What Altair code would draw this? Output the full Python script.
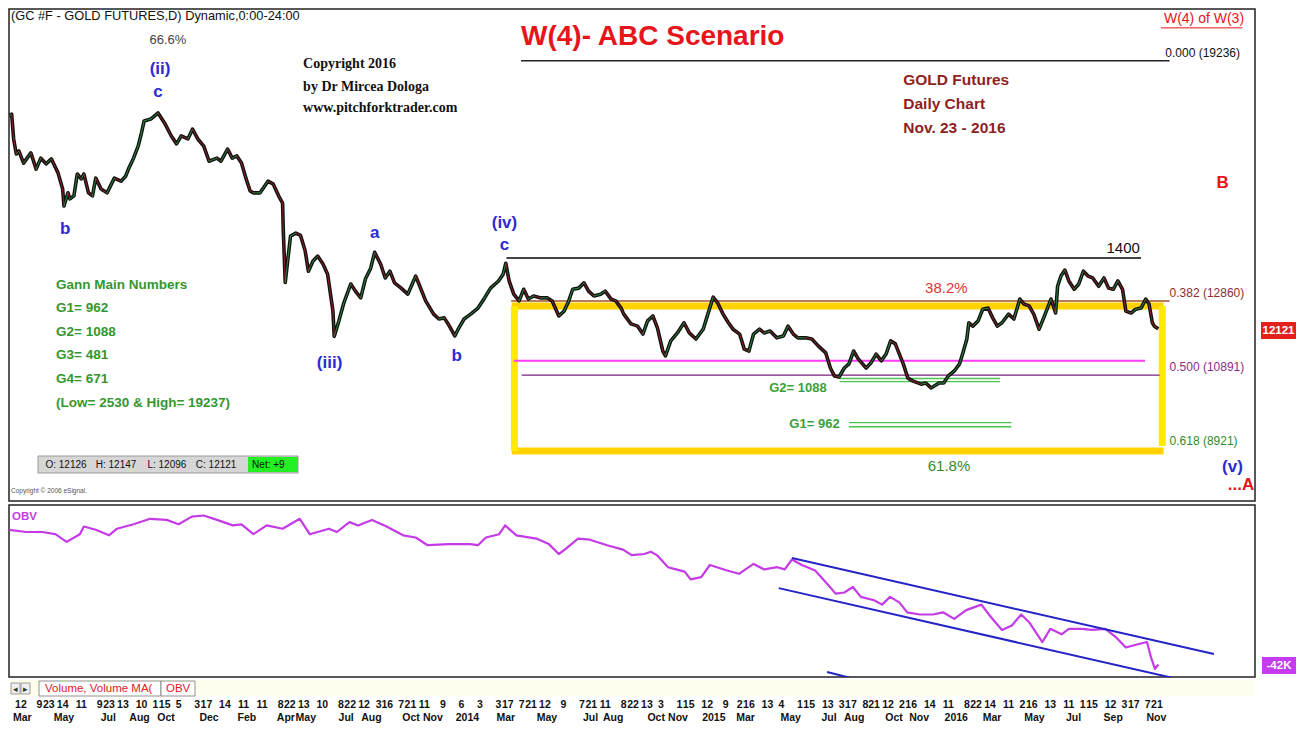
import altair as alt
import pandas as pd

SANS = "Liberation Sans, Arial, sans-serif"
SERIF = "Liberation Serif, Times New Roman, serif"

W = 1246
H_PRICE = 492
H_OBV = 172
H_DATE = 44

# ---------------- data ----------------
price_dates = [
    "2012-02-23", "2012-02-27", "2012-03-01", "2012-03-05", "2012-03-09", "2012-03-16", "2012-03-27",
    "2012-04-04", "2012-04-11", "2012-04-19", "2012-04-27", "2012-05-07", "2012-05-14", "2012-05-16",
    "2012-05-22", "2012-05-25", "2012-05-31", "2012-06-05", "2012-06-11", "2012-06-15", "2012-06-22",
    "2012-06-28", "2012-07-03", "2012-07-11", "2012-07-20", "2012-07-31", "2012-08-10", "2012-08-17",
    "2012-08-22", "2012-08-29", "2012-09-05", "2012-09-10", "2012-09-14", "2012-09-24", "2012-10-05",
    "2012-10-15", "2012-10-25", "2012-11-02", "2012-11-09", "2012-11-19", "2012-11-26", "2012-12-04",
    "2012-12-13", "2012-12-21", "2013-01-02", "2013-01-08", "2013-01-18", "2013-01-25", "2013-02-01",
    "2013-02-08", "2013-02-15", "2013-02-21", "2013-02-26", "2013-03-08", "2013-03-20", "2013-03-28",
    "2013-04-05", "2013-04-11", "2013-04-12", "2013-04-15", "2013-04-19", "2013-04-23", "2013-05-01",
    "2013-05-08", "2013-05-15", "2013-05-20", "2013-05-27", "2013-06-03", "2013-06-11", "2013-06-18",
    "2013-06-26", "2013-06-28", "2013-07-05", "2013-07-12", "2013-07-23", "2013-07-30", "2013-08-07",
    "2013-08-14", "2013-08-22", "2013-08-28", "2013-09-06", "2013-09-13", "2013-09-20", "2013-09-27",
    "2013-10-07", "2013-10-17", "2013-10-29", "2013-11-06", "2013-11-13", "2013-11-25", "2013-12-03",
    "2013-12-11", "2013-12-17", "2013-12-27", "2014-01-02", "2014-01-10", "2014-01-20", "2014-01-31",
    "2014-02-10", "2014-02-19", "2014-03-03", "2014-03-10", "2014-03-14", "2014-03-19", "2014-03-26",
    "2014-04-03", "2014-04-10", "2014-04-17", "2014-04-25", "2014-05-06", "2014-05-16", "2014-05-23",
    "2014-06-02", "2014-06-10", "2014-06-17", "2014-06-23", "2014-07-02", "2014-07-10", "2014-07-17",
    "2014-07-25", "2014-08-04", "2014-08-11", "2014-08-20", "2014-08-27", "2014-09-04", "2014-09-08",
    "2014-09-19", "2014-09-29", "2014-10-07", "2014-10-14", "2014-10-22", "2014-10-29", "2014-11-06",
    "2014-11-10", "2014-11-18", "2014-11-28", "2014-12-08", "2014-12-16", "2014-12-26", "2015-01-06",
    "2015-01-13", "2015-01-21", "2015-01-28", "2015-02-05", "2015-02-13", "2015-02-20", "2015-03-02",
    "2015-03-09", "2015-03-16", "2015-03-23", "2015-04-01", "2015-04-08", "2015-04-17", "2015-04-27",
    "2015-05-07", "2015-05-14", "2015-05-22", "2015-05-29", "2015-06-10", "2015-06-19", "2015-06-29",
    "2015-07-10", "2015-07-17", "2015-07-23", "2015-07-30", "2015-08-07", "2015-08-14", "2015-08-21",
    "2015-08-28", "2015-09-09", "2015-09-16", "2015-09-24", "2015-10-02", "2015-10-09", "2015-10-16",
    "2015-10-23", "2015-11-04", "2015-11-11", "2015-11-19", "2015-12-01", "2015-12-08", "2015-12-16",
    "2015-12-28", "2016-01-04", "2016-01-11", "2016-01-20", "2016-01-28", "2016-02-02", "2016-02-08",
    "2016-02-11", "2016-02-17", "2016-02-25", "2016-03-03", "2016-03-11", "2016-03-18", "2016-03-25",
    "2016-04-01", "2016-04-11", "2016-04-19", "2016-04-28", "2016-05-04", "2016-05-12", "2016-05-19",
    "2016-05-27", "2016-06-03", "2016-06-14", "2016-06-21", "2016-06-24", "2016-06-29", "2016-07-05",
    "2016-07-11", "2016-07-19", "2016-07-26", "2016-08-02", "2016-08-09", "2016-08-16", "2016-08-25",
    "2016-09-02", "2016-09-09", "2016-09-16", "2016-09-23", "2016-09-30", "2016-10-05", "2016-10-13",
    "2016-10-20", "2016-10-28", "2016-11-04", "2016-11-09", "2016-11-14", "2016-11-17", "2016-11-23",
]
price_values = [
    17770, 17820, 17160, 16760, 16840, 16520, 16790,
    16360, 16650, 16500, 16630, 16260, 15830, 15380,
    15730, 15570, 15650, 16230, 16100, 16230, 15730,
    15650, 16120, 15830, 15730, 16120, 16040, 16170,
    16390, 16650, 16970, 17320, 17640, 17690, 17850,
    17580, 17240, 17030, 17240, 17160, 17420, 17160,
    16970, 16570, 16650, 16570, 16890, 16650, 16710,
    16520, 16100, 15780, 15730, 15730, 16040, 15960,
    15650, 15460, 14770, 13350, 13970, 14580, 14660,
    14600, 14200, 13650, 13920, 14050, 13840, 13570,
    12590, 11920, 12330, 12780, 13310, 13120, 12940,
    13440, 13730, 14150, 13840, 13470, 13650, 13340,
    13200, 13040, 13520, 13170, 12860, 12510, 12380,
    12410, 12250, 11930, 12140, 12380, 12510, 12670,
    12940, 13200, 13390, 13570, 13860, 13390, 13040,
    12860, 13170, 12910, 12990, 12940, 12940, 12860,
    12460, 12590, 12860, 13170, 13200, 13340, 13120,
    12990, 13040, 13120, 12910, 12860, 12670, 12510,
    12250, 12190, 11980, 12330, 12460, 12140, 11530,
    11400, 11800, 12010, 12280, 12010, 11850, 12110,
    12510, 12960, 12800, 12510, 12280, 12110, 11980,
    11580, 11530, 11980, 12110, 12010, 12060, 11880,
    11930, 12190, 11980, 11880, 11880, 11850, 11660,
    11480, 11080, 10870, 10840, 11080, 11190, 11530,
    11320, 11080, 11210, 11450, 11270, 11450, 11800,
    11720, 11190, 10810, 10730, 10650, 10680, 10550,
    10680, 10680, 10870, 11000, 11190, 11480, 11850,
    12280, 12190, 12330, 12640, 12670, 12410, 12190,
    12280, 12510, 12380, 12910, 12780, 12730, 12510,
    12110, 12410, 12910, 12540, 13250, 13520, 13680,
    13390, 13170, 13310, 13650, 13520, 13470, 13250,
    13470, 13200, 13170, 13390, 13170, 12590, 12540,
    12640, 12670, 12910, 12780, 12280, 12190, 12121,
]

obv_dates = [
    "2012-02-23", "2012-03-20", "2012-04-13", "2012-05-03", "2012-05-20", "2012-06-09", "2012-06-15",
    "2012-07-03", "2012-07-23", "2012-08-04", "2012-08-29", "2012-09-23", "2012-10-18", "2012-11-05",
    "2012-11-25", "2012-12-13", "2013-01-02", "2013-01-26", "2013-02-08", "2013-02-26", "2013-03-18",
    "2013-04-11", "2013-05-07", "2013-05-22", "2013-06-20", "2013-07-02", "2013-07-21", "2013-08-03",
    "2013-08-24", "2013-09-15", "2013-10-10", "2013-10-29", "2013-11-16", "2013-12-18", "2014-01-19",
    "2014-01-31", "2014-02-12", "2014-03-04", "2014-03-13", "2014-03-30", "2014-04-29", "2014-05-18",
    "2014-06-02", "2014-06-11", "2014-07-01", "2014-07-19", "2014-08-14", "2014-09-07", "2014-09-20",
    "2014-10-09", "2014-10-19", "2014-10-28", "2014-11-14", "2014-11-26", "2014-12-09", "2014-12-18",
    "2015-01-03", "2015-01-16", "2015-02-11", "2015-03-01", "2015-03-23", "2015-04-08", "2015-04-28",
    "2015-05-09", "2015-05-20", "2015-06-04", "2015-06-24", "2015-07-12", "2015-07-25", "2015-08-07",
    "2015-08-20", "2015-09-01", "2015-09-21", "2015-10-03", "2015-10-15", "2015-10-29", "2015-11-10",
    "2015-11-29", "2015-12-19", "2016-01-03", "2016-01-20", "2016-02-07", "2016-03-01", "2016-03-15",
    "2016-04-01", "2016-04-16", "2016-04-30", "2016-05-12", "2016-06-01", "2016-06-13", "2016-06-30",
    "2016-07-11", "2016-07-31", "2016-08-15", "2016-09-04", "2016-09-19", "2016-10-05", "2016-10-23",
    "2016-11-06", "2016-11-12", "2016-11-18", "2016-11-23",
]
obv_values_m = [
    12.2, 12.0, 12.0, 11.8, 11.1, 11.8, 12.5,
    12.2, 11.7, 12.3, 12.7, 13.2, 13.1, 12.7,
    13.4, 13.5, 13.1, 12.6, 12.7, 11.8, 12.6,
    12.3, 13.2, 11.8, 12.3, 12.0, 12.9, 12.6,
    13.1, 12.5, 11.7, 11.5, 10.8, 10.9, 10.9,
    10.8, 11.5, 11.8, 12.6, 11.7, 11.4, 10.9,
    10.0, 10.4, 11.4, 11.3, 10.8, 10.4, 9.9,
    10.0, 10.2, 9.9, 8.8, 8.6, 8.4, 7.7,
    7.9, 9.0, 8.5, 8.2, 9.1, 8.6, 8.8,
    8.6, 9.5, 9.0, 8.5, 7.3, 6.4, 6.5,
    7.0, 6.1, 5.8, 5.4, 6.1, 5.6, 4.7,
    4.5, 4.5, 4.7, 4.1, 4.9, 5.4, 4.3,
    3.1, 3.5, 4.5, 3.8, 2.0, 3.2, 2.7,
    3.2, 3.2, 3.1, 3.2, 2.5, 1.5, 1.8,
    2.0, 0.6, -0.45, -0.042,
]

price_ticks = [8000, 10000, 12000, 14000, 16000, 18000, 20000]
obv_ticks_m = [5, 10]

# level lines: (start date, end date, value from, value to)
line_000 = [("2014-04-06", "2016-12-10", 19236, 19236)]
line_1400 = [("2014-03-15", "2016-10-28", 14000, 14000)]
line_382 = [("2014-03-22", "2016-12-10", 12860, 12860)]
yellow_h = [("2014-03-23", "2016-12-01", 12725, 12725), ("2014-03-23", "2016-12-01", 8875, 8875)]
yellow_v = [("2014-03-27", "2014-03-27", 12725, 8875), ("2016-11-29", "2016-11-29", 12725, 9010)]
line_magenta = [("2014-03-26", "2016-11-03", 11270, 11270)]
line_500 = [("2014-04-07", "2016-11-25", 10891, 10891)]
gann_g2 = [("2015-07-31", "2016-03-29", 10800, 10800), ("2015-07-31", "2016-03-29", 10715, 10715)]
gann_g1 = [("2015-08-14", "2016-04-15", 9630, 9630), ("2015-08-14", "2016-04-15", 9520, 9520)]
w4_underline = [("2016-11-27", "2017-03-30", 20110, 20110)]

obv_channel = [("2015-05-20", "2017-02-15", 9.64, 0.91), ("2015-04-30", "2016-12-22", 6.9, -1.36)]
obv_stub = [("2015-07-12", "2015-08-29", -0.73, -1.45)]

wave_labels = ["(ii)", "c", "b", "a", "(iii)", "b", "(iv)", "c", "(v)"]
wave_dates = ["2012-10-08", "2012-10-05", "2012-05-18", "2013-08-28", "2013-06-21", "2013-12-30",
              "2014-03-12", "2014-03-12", "2017-03-15"]
wave_values = [19020, 18410, 14770, 14660, 11210, 11400, 14930, 14340, 8450]

red_labels = ["B", "...A"]
red_dates = ["2017-02-28", "2017-03-28"]
red_values = [15990, 7970]

gann_lines = ["Gann Main Numbers", "G1= 962", "G2= 1088", "G3= 481", "G4= 671", "(Low= 2530 & High= 19237)"]
gann_values = [13283, 12672, 12035, 11424, 10787, 10150]

copyright_lines = ["Copyright 2016", "by Dr Mircea Dologa", "www.pitchforktrader.com"]
copyright_values = [19150, 18540, 17982]

gold_lines = ["GOLD Futures", "Daily Chart", "Nov. 23 - 2016"]
gold_values = [18726, 18088, 17451]

ohlc_labels = ["O: 12126", "H: 12147", "L: 12096", "C: 12121"]
ohlc_dates = ["2012-04-18", "2012-07-03", "2012-09-19", "2012-12-01"]

day_ticks = [
    "2012-03-12", "2012-04-09", "2012-04-23", "2012-05-14", "2012-06-11", "2012-07-09", "2012-07-23",
    "2012-08-13", "2012-09-10", "2012-10-01", "2012-10-15", "2012-11-05", "2012-12-03", "2012-12-17",
    "2013-01-14", "2013-02-11", "2013-03-11", "2013-04-08", "2013-04-22", "2013-05-13", "2013-06-10",
    "2013-07-08", "2013-07-22", "2013-08-12", "2013-09-03", "2013-09-16", "2013-10-07", "2013-10-21",
    "2013-11-11", "2013-12-09", "2014-01-06", "2014-02-03", "2014-03-03", "2014-03-17", "2014-04-07",
    "2014-04-21", "2014-05-12", "2014-06-09", "2014-07-07", "2014-07-21", "2014-08-11", "2014-09-08",
    "2014-09-22", "2014-10-13", "2014-11-03", "2014-12-01", "2014-12-15", "2015-01-12", "2015-02-09",
    "2015-03-02", "2015-03-16", "2015-04-13", "2015-05-04", "2015-06-01", "2015-06-15", "2015-07-13",
    "2015-08-03", "2015-08-17", "2015-09-08", "2015-09-21", "2015-10-12", "2015-11-02", "2015-11-16",
    "2015-12-14", "2016-01-11", "2016-02-08", "2016-02-22", "2016-03-14", "2016-04-11", "2016-05-02",
    "2016-05-16", "2016-06-13", "2016-07-11", "2016-08-01", "2016-08-15", "2016-09-12", "2016-10-03",
    "2016-10-17", "2016-11-07", "2016-11-21",
]
# anchor dates at which the month / year names are printed
month_anchor = [
    "2012-03-14", "2012-05-16", "2012-07-22", "2012-09-07", "2012-10-17", "2012-12-21", "2013-02-16",
    "2013-04-16", "2013-05-16", "2013-07-16", "2013-08-23", "2013-10-22", "2013-11-24", "2014-01-15",
    "2014-03-14", "2014-05-15", "2014-07-20", "2014-08-23", "2014-10-27", "2014-11-29", "2015-01-22",
    "2015-03-11", "2015-05-18", "2015-07-15", "2015-08-22", "2015-10-21", "2015-11-28", "2016-01-23",
    "2016-03-17", "2016-05-20", "2016-07-18", "2016-09-16", "2016-11-20",
]
month_labels = [
    "Mar", "May", "Jul", "Aug", "Oct", "Dec", "Feb",
    "Apr", "May", "Jul", "Aug", "Oct", "Nov", "2014",
    "Mar", "May", "Jul", "Aug", "Oct", "Nov", "2015",
    "Mar", "May", "Jul", "Aug", "Oct", "Nov", "2016",
    "Mar", "May", "Jul", "Sep", "Nov",
]

# ---------------- scales / helpers ----------------
X_SCALE = alt.Scale(domain=[alt.DateTime(year=2012, month=2, date=23, utc=True),
                            alt.DateTime(year=2017, month=4, date=18, utc=True)])
PRICE_Y = alt.Scale(domain=[7548, 20611], nice=False, zero=False)
OBV_Y = alt.Scale(domain=[-1.18, 14.455], nice=False, zero=False)


def segs(rows, color, width, yscale=PRICE_Y, clip=False):
    df = pd.DataFrame(rows, columns=["d1", "d2", "v1", "v2"])
    return alt.Chart(df).mark_rule(color=color, strokeWidth=width, clip=clip, strokeCap="butt").encode(
        x=alt.X("d1:T", scale=X_SCALE, axis=None), x2="d2:T",
        y=alt.Y("v1:Q", scale=yscale, axis=None), y2="v2:Q")


def labels(texts, dates, values, color, size, font=SANS, weight="bold", align="center",
           yscale=PRICE_Y):
    df = pd.DataFrame({"d": dates, "v": values, "t": texts})
    return alt.Chart(df).mark_text(color=color, fontSize=size, font=font, fontWeight=weight,
                                   align=align, baseline="middle").encode(
        x=alt.X("d:T", scale=X_SCALE, axis=None),
        y=alt.Y("v:Q", scale=yscale, axis=None), text="t:N")


def box(x1, x2, y1, y2, fill, stroke=None, sw=1.0):
    kw = dict(fill=fill)
    if stroke:
        kw.update(stroke=stroke, strokeWidth=sw)
    return alt.Chart(pd.DataFrame({"k": [0]})).mark_rect(**kw).encode(
        x=alt.value(x1), x2=alt.value(x2), y=alt.value(y1), y2=alt.value(y2))


def ptxt(text, x, y, color, size, font=SANS, weight="normal", align="left"):
    return alt.Chart(pd.DataFrame({"t": [text]})).mark_text(
        color=color, fontSize=size, font=font, fontWeight=weight, align=align, baseline="middle").encode(
        x=alt.value(x), y=alt.value(y), text="t:N")


# ---------------- price panel ----------------
price_df = pd.DataFrame({"d": price_dates, "v": price_values})
price_line = alt.Chart(price_df).mark_line(color="#111111", strokeWidth=3.6, strokeJoin="round",
                                           clip=True).encode(
    x=alt.X("d:T", scale=X_SCALE, axis=None),
    y=alt.Y("v:Q", scale=PRICE_Y,
            axis=alt.Axis(orient="right", values=price_ticks, format="d", ticks=False, domain=False,
                          grid=False, labelFont=SANS, labelFontSize=11.5, labelFontWeight="bold",
                          labelColor="#111", labelPadding=6, title=None)))

candle_core = alt.Chart(price_df).transform_window(
    prev_v="lag(v)", prev_d="lag(d)", sort=[alt.SortField("d")]
).transform_filter("datum.prev_v != null").transform_calculate(
    dirn="datum.v >= datum.prev_v ? 'up' : 'down'"
).mark_rule(strokeWidth=0.9, clip=True, strokeCap="round", opacity=0.85).encode(
    x=alt.X("prev_d:T", scale=X_SCALE, axis=None), x2="d:T",
    y=alt.Y("prev_v:Q", scale=PRICE_Y, axis=None), y2="v:Q",
    color=alt.Color("dirn:N", scale=alt.Scale(domain=["up", "down"], range=["#2FA84A", "#B0262B"]),
                    legend=None))

price_layers = [
    segs(yellow_h, "#FFD200", 7),
    segs(yellow_v, "#FFEA00", 7),
    segs(line_382, "#A0522D", 1.6),
    segs(line_magenta, "#FF3BFF", 2),
    segs(line_500, "#7A1F7A", 1.3),
    segs(gann_g2, "#4CC34C", 1.3),
    segs(gann_g1, "#4CC34C", 1.3),
    segs(line_000, "#222222", 1.5),
    segs(line_1400, "#444444", 2),
    segs(w4_underline, "#E8141B", 1),
    price_line,
    candle_core,
    labels(["(GC #F - GOLD FUTURES,D) Dynamic,0:00-24:00"], ["2012-02-26"], [20420], "#111", 12.8,
           weight="normal", align="left"),
    labels(["66.6%"], ["2012-10-20"], [19780], "#444", 13, weight="normal"),
    labels(wave_labels, wave_dates, wave_values, "#2B2BD0", 17),
    labels(copyright_lines, ["2013-05-12"] * 3, copyright_values, "#111", 14, font=SERIF, align="left"),
    labels(["W(4)- ABC Scenario"], ["2014-04-06"], [19870], "#E8141B", 28, align="left"),
    labels(["W(4) of W(3)"], ["2017-01-31"], [20345], "#E8141B", 14, weight="normal"),
    labels(["0.000 (19236)"], ["2017-01-29"], [19440], "#111", 12, weight="normal"),
    labels(gold_lines, ["2015-11-04"] * 3, gold_values, "#8E1F1F", 15.5, align="left"),
    labels(red_labels, red_dates, red_values, "#E8141B", 17),
    labels(["1400"], ["2016-10-01"], [14265], "#111", 15, weight="normal"),
    labels(["38.2%"], ["2016-01-08"], [13200], "#E03535", 15, weight="normal"),
    labels(["61.8%"], ["2016-01-12"], [8480], "#2E8B2E", 15, weight="normal"),
    labels(["0.382 (12860)"], ["2016-12-10"], [13070], "#8B2E2E", 12, weight="normal", align="left"),
    labels(["0.500 (10891)"], ["2016-12-10"], [11106], "#8B2C8B", 12, weight="normal", align="left"),
    labels(["0.618 (8921)"], ["2016-12-10"], [9140], "#2E8B2E", 12, weight="normal", align="left"),
    labels(["G2= 1088"], ["2015-05-29"], [10548], "#3AA03A", 13),
    labels(["G1= 962"], ["2015-06-23"], [9592], "#3AA03A", 13),
    labels(gann_lines, ["2012-05-04"] * 6, gann_values, "#36962E", 13.5, align="left"),
    box(29, 289, 447, 464, "#D6D6D6", "#9A9A9A"),
    box(239, 289, 448, 463, "#22F022"),
    labels(ohlc_labels, ohlc_dates, [8517] * 4, "#111", 10, weight="normal", align="left"),
    labels(["Net: +9"], ["2013-02-24"], [8517], "#111", 10, weight="normal", align="left"),
    labels(["Copyright \u00a9 2006 eSignal."], ["2012-02-26"], [7813], "#555", 6.5, weight="normal",
           align="left"),
    box(1252, 1287, 313, 330, "#E3201B"),
    ptxt("12121", 1269.5, 321.5, "white", 11.5, weight="bold", align="center"),
]
price = alt.layer(*price_layers).properties(width=W, height=H_PRICE)

# ---------------- OBV panel ----------------
obv_df = pd.DataFrame({"d": obv_dates, "v": obv_values_m})
obv_line = alt.Chart(obv_df).mark_line(color="#C43BE6", strokeWidth=2.2, strokeJoin="round",
                                       clip=True).encode(
    x=alt.X("d:T", scale=X_SCALE, axis=None),
    y=alt.Y("v:Q", scale=OBV_Y,
            axis=alt.Axis(orient="right", values=obv_ticks_m, labelExpr="datum.value + 'M'", ticks=False,
                          domain=False, grid=False, labelFont=SANS, labelFontSize=11.5,
                          labelFontWeight="bold", labelColor="#111", labelPadding=6, title=None)))
obv_layers = [
    obv_line,
    segs(obv_channel, "#2323C8", 2, yscale=OBV_Y, clip=True),
    segs(obv_stub, "#2323C8", 2, yscale=OBV_Y, clip=True),
    ptxt("OBV", 3, 12, "#C43BE6", 11.5, weight="bold"),
    box(1253, 1287, 152, 169, "#C43BF0"),
    ptxt("-42K", 1270, 160.5, "white", 11.5, weight="bold", align="center"),
]
obv = alt.layer(*obv_layers).properties(width=W, height=H_OBV)

# ---------------- date strip ----------------
day_df = pd.DataFrame({"d": day_ticks, "t": [str(int(s[-2:])) for s in day_ticks]})
day_text = alt.Chart(day_df).mark_text(font=SANS, fontSize=10.5, fontWeight="bold", color="#111",
                                       baseline="middle").encode(
    x=alt.X("d:T", scale=X_SCALE, axis=None), y=alt.value(25), text="t:N")
month_df = pd.DataFrame({"d": month_anchor, "t": month_labels})
month_text = alt.Chart(month_df).mark_text(font=SANS, fontSize=10.5, fontWeight="bold", color="#111",
                                           baseline="middle").encode(
    x=alt.X("d:T", scale=X_SCALE, axis=None), y=alt.value(37.5), text="t:N")

date_layers = [
    box(0, W, 0, 16, "#FFFDEE"),
    box(2, 11, 3, 14, "#EFEFEF", "#888", 0.8),
    box(12, 21, 3, 14, "#EFEFEF", "#888", 0.8),
    ptxt("\u25c2", 6.5, 8.5, "#333", 9, align="center"),
    ptxt("\u25b8", 16.5, 8.5, "#333", 9, align="center"),
    box(30, 152, 1, 16, "white", "#777", 0.8),
    box(152, 186, 1, 16, "white", "#777", 0.8),
    ptxt("Volume, Volume MA(", 36, 9, "#E0201B", 11.5),
    ptxt("OBV", 157, 9, "#E0201B", 11.5),
    day_text,
    month_text,
]
dates = alt.layer(*date_layers).properties(width=W, height=H_DATE,
                                           view=alt.ViewBackground(strokeOpacity=0))

chart = alt.vconcat(price, obv, dates, spacing=2).properties(
    padding=0, background="white"
).configure_view(stroke="#222222", strokeWidth=1.5)

chart.save("out.html", embed_options={"renderer": "svg", "actions": False})
